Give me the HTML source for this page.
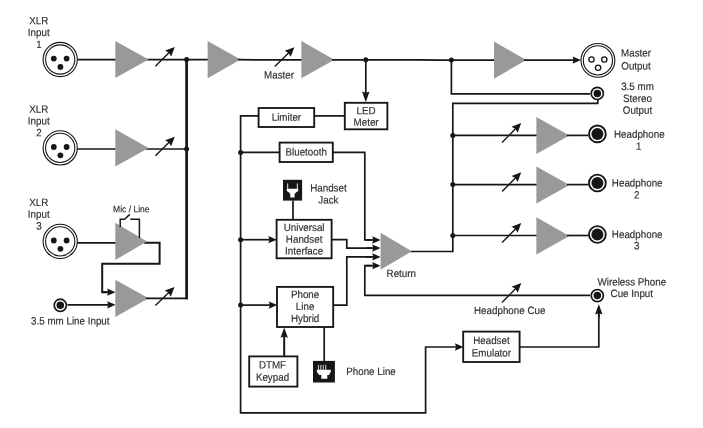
<!DOCTYPE html>
<html><head><meta charset="utf-8"><title>Block Diagram</title>
<style>
html,body{margin:0;padding:0;background:#fff;}
body{width:703px;height:428px;overflow:hidden;font-family:"Liberation Sans",sans-serif;}
svg{display:block;will-change:transform;}
svg text{font-family:"Liberation Sans",sans-serif;}
</style></head><body>
<svg width="703" height="428" viewBox="0 0 703 428">
<rect width="703" height="428" fill="#ffffff"/>
<path d="M186.60 59.60 L186.60 299.25" fill="none" stroke="#161616" stroke-width="2.7" stroke-linejoin="miter" />
<path d="M77.00 59.60 L116.00 59.60" fill="none" stroke="#161616" stroke-width="1.7" stroke-linejoin="miter" />
<path d="M146.00 59.60 L208.00 59.60" fill="none" stroke="#161616" stroke-width="1.7" stroke-linejoin="miter" />
<polygon points="115.3,40.9 148.6,59.5 115.3,78.1" fill="#999999"/>
<path d="M155.40 66.20 L169.47 52.20" fill="none" stroke="#161616" stroke-width="1.4" stroke-linejoin="miter" />
<polygon points="174.80,46.90 171.17,56.58 168.94,52.73 165.10,50.48" fill="#161616"/>
<circle cx="186.6" cy="59.6" r="2.5" fill="#161616"/>
<circle cx="60.2" cy="59.5" r="17.1" fill="#fff" stroke="#161616" stroke-width="1.1"/>
<circle cx="60.2" cy="59.5" r="14.6" fill="#fff" stroke="#161616" stroke-width="1.1"/>
<circle cx="53.800000000000004" cy="58.6" r="2.9" fill="#161616"/>
<circle cx="66.60000000000001" cy="58.6" r="2.9" fill="#161616"/>
<circle cx="60.400000000000006" cy="66.9" r="2.9" fill="#161616"/>
<text transform="matrix(0.925 0.0006 0 1 38.7 24.19)" font-size="10.6" text-anchor="middle" fill="#2e2e2e" stroke="#2e2e2e" stroke-width="0.16">XLR</text>
<text transform="matrix(0.925 0.0006 0 1 38.7 36.09)" font-size="10.6" text-anchor="middle" fill="#2e2e2e" stroke="#2e2e2e" stroke-width="0.16">Input</text>
<text transform="matrix(0.925 0.0006 0 1 38.9 47.89)" font-size="10.6" text-anchor="middle" fill="#2e2e2e" stroke="#2e2e2e" stroke-width="0.16">1</text>
<path d="M77.00 149.00 L116.00 149.00" fill="none" stroke="#161616" stroke-width="1.7" stroke-linejoin="miter" />
<path d="M146.00 149.00 L186.60 149.00" fill="none" stroke="#161616" stroke-width="1.7" stroke-linejoin="miter" />
<polygon points="115.3,129.3 148.6,147.9 115.3,166.5" fill="#999999"/>
<path d="M155.40 155.80 L169.44 141.98" fill="none" stroke="#161616" stroke-width="1.4" stroke-linejoin="miter" />
<polygon points="174.80,136.70 171.12,146.36 168.91,142.50 165.08,140.23" fill="#161616"/>
<circle cx="186.6" cy="149.0" r="2.5" fill="#161616"/>
<circle cx="60.2" cy="147.9" r="17.1" fill="#fff" stroke="#161616" stroke-width="1.1"/>
<circle cx="60.2" cy="147.9" r="14.6" fill="#fff" stroke="#161616" stroke-width="1.1"/>
<circle cx="53.800000000000004" cy="147.0" r="2.9" fill="#161616"/>
<circle cx="66.60000000000001" cy="147.0" r="2.9" fill="#161616"/>
<circle cx="60.400000000000006" cy="155.3" r="2.9" fill="#161616"/>
<text transform="matrix(0.925 0.0006 0 1 38.7 112.69)" font-size="10.6" text-anchor="middle" fill="#2e2e2e" stroke="#2e2e2e" stroke-width="0.16">XLR</text>
<text transform="matrix(0.925 0.0006 0 1 38.7 124.49)" font-size="10.6" text-anchor="middle" fill="#2e2e2e" stroke="#2e2e2e" stroke-width="0.16">Input</text>
<text transform="matrix(0.925 0.0006 0 1 38.9 136.19)" font-size="10.6" text-anchor="middle" fill="#2e2e2e" stroke="#2e2e2e" stroke-width="0.16">2</text>
<path d="M77.00 242.80 L116.00 242.80" fill="none" stroke="#161616" stroke-width="1.7" stroke-linejoin="miter" />
<path d="M144.00 242.80 L159.60 242.80 L159.60 263.70 L102.20 263.70 L102.20 292.20 L110.00 292.20" fill="none" stroke="#161616" stroke-width="2.0" stroke-linejoin="miter" />
<path d="M102.20 292.20 L108.88 292.20" fill="none" stroke="#161616" stroke-width="1.7" stroke-linejoin="miter" />
<polygon points="115.60,292.20 107.20,295.85 108.21,292.20 107.20,288.55" fill="#161616"/>
<polygon points="115.3,222.8 147.0,241.4 115.3,260.0" fill="#999999"/>
<circle cx="60.2" cy="241.4" r="17.1" fill="#fff" stroke="#161616" stroke-width="1.1"/>
<circle cx="60.2" cy="241.4" r="14.6" fill="#fff" stroke="#161616" stroke-width="1.1"/>
<circle cx="53.800000000000004" cy="240.5" r="2.9" fill="#161616"/>
<circle cx="66.60000000000001" cy="240.5" r="2.9" fill="#161616"/>
<circle cx="60.400000000000006" cy="248.8" r="2.9" fill="#161616"/>
<text transform="matrix(0.925 0.0006 0 1 38.7 205.99)" font-size="10.6" text-anchor="middle" fill="#2e2e2e" stroke="#2e2e2e" stroke-width="0.16">XLR</text>
<text transform="matrix(0.925 0.0006 0 1 38.7 217.79)" font-size="10.6" text-anchor="middle" fill="#2e2e2e" stroke="#2e2e2e" stroke-width="0.16">Input</text>
<text transform="matrix(0.925 0.0006 0 1 38.9 229.39)" font-size="10.6" text-anchor="middle" fill="#2e2e2e" stroke="#2e2e2e" stroke-width="0.16">3</text>
<path d="M120.20 227.00 L120.20 219.20 L124.60 219.20 L129.80 214.40" fill="none" stroke="#161616" stroke-width="1.5" stroke-linejoin="miter" />
<path d="M130.40 219.20 L139.40 219.20 L139.40 238.00" fill="none" stroke="#161616" stroke-width="1.5" stroke-linejoin="miter" />
<text transform="matrix(0.925 0.0006 0 1 131.3 212.19)" font-size="9.2" text-anchor="middle" fill="#2e2e2e" stroke="#2e2e2e" stroke-width="0.16">Mic / Line</text>
<circle cx="60.3" cy="305.3" r="6.1" fill="#fff" stroke="#161616" stroke-width="1.7"/>
<circle cx="60.3" cy="305.3" r="3.75" fill="#161616"/>
<path d="M67.50 304.80 L108.88 304.80" fill="none" stroke="#161616" stroke-width="1.7" stroke-linejoin="miter" />
<polygon points="115.60,304.80 107.20,308.45 108.21,304.80 107.20,301.15" fill="#161616"/>
<polygon points="115.3,279.7 148.6,298.3 115.3,316.90000000000003" fill="#999999"/>
<path d="M146.00 298.40 L187.95 298.40" fill="none" stroke="#161616" stroke-width="1.7" stroke-linejoin="miter" />
<path d="M155.40 305.60 L169.10 292.33" fill="none" stroke="#161616" stroke-width="1.4" stroke-linejoin="miter" />
<polygon points="174.50,287.10 170.74,296.73 168.56,292.86 164.76,290.55" fill="#161616"/>
<text transform="matrix(0.925 0.0006 0 1 70.3 324.59)" font-size="10.6" text-anchor="middle" fill="#2e2e2e" stroke="#2e2e2e" stroke-width="0.16">3.5 mm Line Input</text>
<polygon points="207.6,41.0 240.6,59.6 207.6,78.2" fill="#999999"/>
<path d="M238.00 59.60 L260.00 59.90 L303.00 59.90" fill="none" stroke="#161616" stroke-width="1.7" stroke-linejoin="miter" />
<polygon points="301.4,41.099999999999994 334.4,59.699999999999996 301.4,78.3" fill="#999999"/>
<path d="M274.80 66.40 L289.03 52.46" fill="none" stroke="#161616" stroke-width="1.4" stroke-linejoin="miter" />
<polygon points="294.40,47.20 290.69,56.85 288.49,52.99 284.68,50.71" fill="#161616"/>
<text transform="matrix(0.925 0.0006 0 1 279.0 78.39)" font-size="10.6" text-anchor="middle" fill="#2e2e2e" stroke="#2e2e2e" stroke-width="0.16">Master</text>
<path d="M332.00 59.90 L420.00 59.90 L440.00 60.10 L496.00 60.10" fill="none" stroke="#161616" stroke-width="1.7" stroke-linejoin="miter" />
<circle cx="365.8" cy="59.699999999999996" r="2.5" fill="#161616"/>
<path d="M365.80 59.90 L365.80 93.72" fill="none" stroke="#161616" stroke-width="1.7" stroke-linejoin="miter" />
<polygon points="365.80,102.20 362.10,91.60 365.80,92.87 369.50,91.60" fill="#161616"/>
<polygon points="494.0,41.5 526.2,60.1 494.0,78.7" fill="#999999"/>
<path d="M524.00 60.10 L574.28 60.10" fill="none" stroke="#161616" stroke-width="1.7" stroke-linejoin="miter" />
<polygon points="581.00,60.10 572.60,63.75 573.61,60.10 572.60,56.45" fill="#161616"/>
<circle cx="597.9" cy="60.4" r="16.9" fill="#fff" stroke="#161616" stroke-width="1.1"/>
<circle cx="597.9" cy="60.4" r="14.6" fill="#fff" stroke="#161616" stroke-width="1.1"/>
<circle cx="591.5" cy="59.5" r="2.65" fill="#fff" stroke="#161616" stroke-width="1.3"/>
<circle cx="604.3" cy="59.5" r="2.65" fill="#fff" stroke="#161616" stroke-width="1.3"/>
<circle cx="598.1" cy="67.8" r="2.65" fill="#fff" stroke="#161616" stroke-width="1.3"/>
<text transform="matrix(0.925 0.0006 0 1 636.0 56.59)" font-size="10.6" text-anchor="middle" fill="#2e2e2e" stroke="#2e2e2e" stroke-width="0.16">Master</text>
<text transform="matrix(0.925 0.0006 0 1 636.0 69.39)" font-size="10.6" text-anchor="middle" fill="#2e2e2e" stroke="#2e2e2e" stroke-width="0.16">Output</text>
<circle cx="451.4" cy="60.1" r="2.5" fill="#161616"/>
<path d="M451.40 60.10 L451.40 93.80 L590.00 93.80" fill="none" stroke="#161616" stroke-width="1.7" stroke-linejoin="miter" />
<circle cx="597.3" cy="93.4" r="6.1" fill="#fff" stroke="#161616" stroke-width="1.7"/>
<circle cx="597.3" cy="93.4" r="3.75" fill="#161616"/>
<path d="M597.80 100.00 L597.80 103.40 L452.80 103.40 L452.80 251.50 L410.00 251.50" fill="none" stroke="#161616" stroke-width="1.7" stroke-linejoin="miter" />
<text transform="matrix(0.925 0.0006 0 1 637.5 90.09)" font-size="10.6" text-anchor="middle" fill="#2e2e2e" stroke="#2e2e2e" stroke-width="0.16">3.5 mm</text>
<text transform="matrix(0.925 0.0006 0 1 637.5 101.89)" font-size="10.6" text-anchor="middle" fill="#2e2e2e" stroke="#2e2e2e" stroke-width="0.16">Stereo</text>
<text transform="matrix(0.925 0.0006 0 1 637.5 113.79)" font-size="10.6" text-anchor="middle" fill="#2e2e2e" stroke="#2e2e2e" stroke-width="0.16">Output</text>
<path d="M452.80 135.40 L538.00 135.40" fill="none" stroke="#161616" stroke-width="1.7" stroke-linejoin="miter" />
<circle cx="452.8" cy="135.4" r="2.5" fill="#161616"/>
<polygon points="536.4,116.9 569.4,135.5 536.4,154.1" fill="#999999"/>
<path d="M567.00 135.40 L588.50 135.40" fill="none" stroke="#161616" stroke-width="1.7" stroke-linejoin="miter" />
<circle cx="597.4" cy="133.9" r="8.4" fill="#fff" stroke="#161616" stroke-width="1.9"/>
<circle cx="597.4" cy="133.9" r="6.0" fill="#161616"/>
<path d="M502.10 142.40 L515.92 128.36" fill="none" stroke="#161616" stroke-width="1.4" stroke-linejoin="miter" />
<polygon points="521.20,123.00 517.67,132.72 515.40,128.89 511.54,126.68" fill="#161616"/>
<text transform="matrix(0.925 0.0006 0 1 639.3 137.79)" font-size="10.6" text-anchor="middle" fill="#2e2e2e" stroke="#2e2e2e" stroke-width="0.16">Headphone</text>
<text transform="matrix(0.925 0.0006 0 1 638.8 149.69)" font-size="10.6" text-anchor="middle" fill="#2e2e2e" stroke="#2e2e2e" stroke-width="0.16">1</text>
<path d="M452.80 184.60 L538.00 184.60" fill="none" stroke="#161616" stroke-width="1.7" stroke-linejoin="miter" />
<circle cx="452.8" cy="184.6" r="2.5" fill="#161616"/>
<polygon points="536.4,166.4 569.4,185.0 536.4,203.6" fill="#999999"/>
<path d="M567.00 184.60 L588.50 184.60" fill="none" stroke="#161616" stroke-width="1.7" stroke-linejoin="miter" />
<circle cx="597.4" cy="183.0" r="8.4" fill="#fff" stroke="#161616" stroke-width="1.9"/>
<circle cx="597.4" cy="183.0" r="6.0" fill="#161616"/>
<path d="M502.10 191.60 L515.92 177.56" fill="none" stroke="#161616" stroke-width="1.4" stroke-linejoin="miter" />
<polygon points="521.20,172.20 517.67,181.92 515.40,178.09 511.54,175.88" fill="#161616"/>
<text transform="matrix(0.925 0.0006 0 1 637.2 186.49)" font-size="10.6" text-anchor="middle" fill="#2e2e2e" stroke="#2e2e2e" stroke-width="0.16">Headphone</text>
<text transform="matrix(0.925 0.0006 0 1 636.7 198.49)" font-size="10.6" text-anchor="middle" fill="#2e2e2e" stroke="#2e2e2e" stroke-width="0.16">2</text>
<path d="M452.80 235.50 L538.00 235.50" fill="none" stroke="#161616" stroke-width="1.7" stroke-linejoin="miter" />
<circle cx="452.8" cy="235.5" r="2.5" fill="#161616"/>
<polygon points="536.4,217.3 569.4,235.9 536.4,254.5" fill="#999999"/>
<path d="M567.00 235.50 L588.50 235.50" fill="none" stroke="#161616" stroke-width="1.7" stroke-linejoin="miter" />
<circle cx="597.4" cy="234.5" r="8.4" fill="#fff" stroke="#161616" stroke-width="1.9"/>
<circle cx="597.4" cy="234.5" r="6.0" fill="#161616"/>
<path d="M502.10 242.50 L515.92 228.46" fill="none" stroke="#161616" stroke-width="1.4" stroke-linejoin="miter" />
<polygon points="521.20,223.10 517.67,232.82 515.40,228.99 511.54,226.78" fill="#161616"/>
<text transform="matrix(0.925 0.0006 0 1 637.2 237.89)" font-size="10.6" text-anchor="middle" fill="#2e2e2e" stroke="#2e2e2e" stroke-width="0.16">Headphone</text>
<text transform="matrix(0.925 0.0006 0 1 636.7 249.29)" font-size="10.6" text-anchor="middle" fill="#2e2e2e" stroke="#2e2e2e" stroke-width="0.16">3</text>
<path d="M259.00 115.90 L240.60 115.90 L240.60 412.80 L425.60 412.80 L425.60 347.00 L456.68 347.00" fill="none" stroke="#161616" stroke-width="1.7" stroke-linejoin="miter" />
<polygon points="463.40,347.00 455.00,350.65 456.01,347.00 455.00,343.35" fill="#161616"/>
<path d="M314.00 115.90 L345.00 115.90" fill="none" stroke="#161616" stroke-width="1.7" stroke-linejoin="miter" />
<rect x="258.6" y="108.0" width="55.599999999999966" height="19.0" fill="#fff" stroke="#161616" stroke-width="1.85"/>
<text transform="matrix(0.925 0.0006 0 1 286.4 120.79)" font-size="10.6" text-anchor="middle" fill="#2e2e2e" stroke="#2e2e2e" stroke-width="0.16">Limiter</text>
<rect x="344.8" y="102.8" width="42.599999999999966" height="26.500000000000014" fill="#fff" stroke="#161616" stroke-width="1.85"/>
<text transform="matrix(0.925 0.0006 0 1 366.1 114.29)" font-size="10.6" text-anchor="middle" fill="#2e2e2e" stroke="#2e2e2e" stroke-width="0.16">LED</text>
<text transform="matrix(0.925 0.0006 0 1 366.1 125.69)" font-size="10.6" text-anchor="middle" fill="#2e2e2e" stroke="#2e2e2e" stroke-width="0.16">Meter</text>
<circle cx="240.6" cy="152.4" r="2.5" fill="#161616"/>
<path d="M240.60 152.40 L280.00 152.40" fill="none" stroke="#161616" stroke-width="1.7" stroke-linejoin="miter" />
<path d="M332.00 152.40 L364.80 152.40 L364.80 240.00 L372.00 240.00" fill="none" stroke="#161616" stroke-width="1.7" stroke-linejoin="miter" />
<path d="M366.00 240.00 L373.88 240.00" fill="none" stroke="#161616" stroke-width="1.7" stroke-linejoin="miter" />
<polygon points="380.60,240.00 372.20,243.65 373.21,240.00 372.20,236.35" fill="#161616"/>
<rect x="279.6" y="142.6" width="53.19999999999999" height="19.400000000000006" fill="#fff" stroke="#161616" stroke-width="1.85"/>
<text transform="matrix(0.925 0.0006 0 1 306.2 155.49)" font-size="10.6" text-anchor="middle" fill="#2e2e2e" stroke="#2e2e2e" stroke-width="0.16">Bluetooth</text>
<rect x="283.0" y="179.8" width="19.1" height="20.8" fill="#161616"/>
<path d="M286.8 188.7H298.2V190.9L296 192.6L294.6 194.0V197.4H290.3V194.0L289 192.6L286.8 190.9Z" fill="#fff"/>
<rect x="287.15" y="183.4" width="1.05" height="5.6" fill="#fff" opacity="0.85"/><rect x="296.8" y="183.4" width="1.05" height="5.6" fill="#fff" opacity="0.85"/>
<path d="M293.00 200.50 L293.00 220.00" fill="none" stroke="#161616" stroke-width="1.7" stroke-linejoin="miter" />
<text transform="matrix(0.925 0.0006 0 1 328.4 191.59)" font-size="10.6" text-anchor="middle" fill="#2e2e2e" stroke="#2e2e2e" stroke-width="0.16">Handset</text>
<text transform="matrix(0.925 0.0006 0 1 328.4 203.49)" font-size="10.6" text-anchor="middle" fill="#2e2e2e" stroke="#2e2e2e" stroke-width="0.16">Jack</text>
<circle cx="240.6" cy="239.7" r="2.5" fill="#161616"/>
<path d="M240.60 239.70 L270.08 239.70" fill="none" stroke="#161616" stroke-width="1.7" stroke-linejoin="miter" />
<polygon points="276.80,239.70 268.40,243.35 269.41,239.70 268.40,236.05" fill="#161616"/>
<path d="M331.00 239.70 L346.80 239.70 L346.80 248.10 L372.00 248.10" fill="none" stroke="#161616" stroke-width="1.7" stroke-linejoin="miter" />
<path d="M366.00 248.10 L373.88 248.10" fill="none" stroke="#161616" stroke-width="1.7" stroke-linejoin="miter" />
<polygon points="380.60,248.10 372.20,251.75 373.21,248.10 372.20,244.45" fill="#161616"/>
<rect x="276.6" y="219.8" width="55.0" height="38.5" fill="#fff" stroke="#161616" stroke-width="1.85"/>
<text transform="matrix(0.925 0.0006 0 1 304.1 231.09)" font-size="10.6" text-anchor="middle" fill="#2e2e2e" stroke="#2e2e2e" stroke-width="0.16">Universal</text>
<text transform="matrix(0.925 0.0006 0 1 304.1 242.79)" font-size="10.6" text-anchor="middle" fill="#2e2e2e" stroke="#2e2e2e" stroke-width="0.16">Handset</text>
<text transform="matrix(0.925 0.0006 0 1 304.1 254.49)" font-size="10.6" text-anchor="middle" fill="#2e2e2e" stroke="#2e2e2e" stroke-width="0.16">Interface</text>
<circle cx="240.6" cy="305.1" r="2.5" fill="#161616"/>
<path d="M240.60 305.10 L270.48 305.10" fill="none" stroke="#161616" stroke-width="1.7" stroke-linejoin="miter" />
<polygon points="277.20,305.10 268.80,308.75 269.81,305.10 268.80,301.45" fill="#161616"/>
<path d="M333.00 305.10 L346.80 305.10 L346.80 256.90 L372.00 256.90" fill="none" stroke="#161616" stroke-width="1.7" stroke-linejoin="miter" />
<path d="M366.00 256.90 L373.88 256.90" fill="none" stroke="#161616" stroke-width="1.7" stroke-linejoin="miter" />
<polygon points="380.60,256.90 372.20,260.55 373.21,256.90 372.20,253.25" fill="#161616"/>
<rect x="277.0" y="286.9" width="56.19999999999999" height="40.10000000000002" fill="#fff" stroke="#161616" stroke-width="1.85"/>
<text transform="matrix(0.925 0.0006 0 1 305.1 298.09)" font-size="10.6" text-anchor="middle" fill="#2e2e2e" stroke="#2e2e2e" stroke-width="0.16">Phone</text>
<text transform="matrix(0.925 0.0006 0 1 305.1 310.09)" font-size="10.6" text-anchor="middle" fill="#2e2e2e" stroke="#2e2e2e" stroke-width="0.16">Line</text>
<text transform="matrix(0.925 0.0006 0 1 305.1 321.99)" font-size="10.6" text-anchor="middle" fill="#2e2e2e" stroke="#2e2e2e" stroke-width="0.16">Hybrid</text>
<path d="M284.20 357.00 L284.20 335.72" fill="none" stroke="#161616" stroke-width="2.0" stroke-linejoin="miter" />
<polygon points="284.20,327.40 287.90,337.80 284.20,336.55 280.50,337.80" fill="#161616"/>
<rect x="249.2" y="356.4" width="48.19999999999999" height="30.200000000000045" fill="#fff" stroke="#161616" stroke-width="1.85"/>
<text transform="matrix(0.925 0.0006 0 1 272.5 368.49)" font-size="10.6" text-anchor="middle" fill="#2e2e2e" stroke="#2e2e2e" stroke-width="0.16">DTMF</text>
<text transform="matrix(0.925 0.0006 0 1 272.5 380.69)" font-size="10.6" text-anchor="middle" fill="#2e2e2e" stroke="#2e2e2e" stroke-width="0.16">Keypad</text>
<path d="M324.20 327.00 L324.20 362.00" fill="none" stroke="#161616" stroke-width="1.7" stroke-linejoin="miter" />
<rect x="313.0" y="360.9" width="21.9" height="21.6" fill="#161616"/>
<path d="M316.8 369.7H330.8V371.8L329 374.9H327.3V378.8H321.3V374.9H319.2L316.8 371.8Z" fill="#fff"/>
<rect x="317.9" y="364.8" width="1.0" height="5.2" fill="#fff" opacity="0.8"/>
<rect x="320.3" y="364.8" width="1.0" height="5.2" fill="#fff" opacity="0.8"/>
<rect x="322.7" y="364.8" width="1.0" height="5.2" fill="#fff" opacity="0.8"/>
<rect x="325.2" y="364.8" width="1.0" height="5.2" fill="#fff" opacity="0.8"/>
<text transform="matrix(0.925 0.0006 0 1 346.2 375.09)" font-size="10.6" text-anchor="start" fill="#2e2e2e" stroke="#2e2e2e" stroke-width="0.16">Phone Line</text>
<polygon points="380.6,232.8 411.8,251.3 380.6,269.8" fill="#999999"/>
<text transform="matrix(0.925 0.0006 0 1 401.3 276.99)" font-size="10.6" text-anchor="middle" fill="#2e2e2e" stroke="#2e2e2e" stroke-width="0.16">Return</text>
<path d="M590.00 295.40 L364.80 295.40 L364.80 265.70 L372.00 265.70" fill="none" stroke="#161616" stroke-width="1.7" stroke-linejoin="miter" />
<path d="M366.00 265.70 L373.88 265.70" fill="none" stroke="#161616" stroke-width="1.7" stroke-linejoin="miter" />
<polygon points="380.60,265.70 372.20,269.35 373.21,265.70 372.20,262.05" fill="#161616"/>
<path d="M502.00 302.40 L516.00 288.33" fill="none" stroke="#161616" stroke-width="1.4" stroke-linejoin="miter" />
<polygon points="521.30,283.00 517.72,292.70 515.47,288.86 511.62,286.63" fill="#161616"/>
<circle cx="597.3" cy="295.6" r="6.1" fill="#fff" stroke="#161616" stroke-width="1.7"/>
<circle cx="597.3" cy="295.6" r="3.75" fill="#161616"/>
<text transform="matrix(0.925 0.0006 0 1 509.7 313.99)" font-size="10.6" text-anchor="middle" fill="#2e2e2e" stroke="#2e2e2e" stroke-width="0.16">Headphone Cue</text>
<text transform="matrix(0.925 0.0006 0 1 631.8 285.49)" font-size="10.6" text-anchor="middle" fill="#2e2e2e" stroke="#2e2e2e" stroke-width="0.16">Wireless Phone</text>
<text transform="matrix(0.925 0.0006 0 1 631.8 297.09)" font-size="10.6" text-anchor="middle" fill="#2e2e2e" stroke="#2e2e2e" stroke-width="0.16">Cue Input</text>
<rect x="463.2" y="331.6" width="56.400000000000034" height="30.399999999999977" fill="#fff" stroke="#161616" stroke-width="1.85"/>
<text transform="matrix(0.925 0.0006 0 1 491.4 344.09)" font-size="10.6" text-anchor="middle" fill="#2e2e2e" stroke="#2e2e2e" stroke-width="0.16">Headset</text>
<text transform="matrix(0.925 0.0006 0 1 491.4 356.49)" font-size="10.6" text-anchor="middle" fill="#2e2e2e" stroke="#2e2e2e" stroke-width="0.16">Emulator</text>
<path d="M519.60 347.00 L598.80 347.00 L598.80 309.00" fill="none" stroke="#161616" stroke-width="1.7" stroke-linejoin="miter" />
<path d="M598.80 318.00 L598.80 312.48" fill="none" stroke="#161616" stroke-width="1.7" stroke-linejoin="miter" />
<polygon points="598.80,304.00 602.50,314.60 598.80,313.33 595.10,314.60" fill="#161616"/>
</svg>
</body></html>
